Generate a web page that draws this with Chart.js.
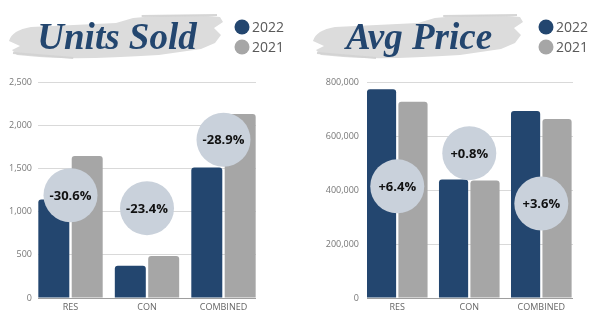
<!DOCTYPE html>
<html>
<head>
<meta charset="utf-8">
<script src="https://cdn.jsdelivr.net/npm/chart.js@4.4.1/dist/chart.umd.min.js"></script>
<style>
  html, body { margin: 0; padding: 0; background: #fff; }
  .row { display: flex; width: 600px; height: 325px; }
  canvas { display: block; }
</style>
</head>
<body>
<div class="row">
  <canvas id="unitsChart" width="300" height="325"></canvas>
  <canvas id="priceChart" width="300" height="325"></canvas>
</div>
<script>
const categories = ['RES', 'CON', 'COMBINED'];
const years = ['2022', '2021'];

const units2022 = [1139, 372, 1511];
const units2021 = [1643, 486, 2129];
const unitsChange = ['-30.6%', '-23.4%', '-28.9%'];
const unitsBadgeAt = [1190, 1040, 1832];
const unitsTicks = { max: 2500, step: 500 };

const price2022 = [773000, 438500, 693000];
const price2021 = [726500, 435000, 663000];
const priceChange = ['+6.4%', '+0.8%', '+3.6%'];
const priceBadgeAt = [413500, 536500, 350000];
const priceTicks = { max: 800000, step: 200000 };

const NAVY = '#23466f';
const GREY = '#a6a6a6';
const BADGE = '#c9d1db';

// grey paint stroke behind the title, then the title and the year key
const headerPlugin = {
  id: 'header',
  beforeDraw(chart, args, opts) {
    const ctx = chart.ctx;
    const bx = opts.brushX, w = opts.brushW;
    ctx.save();
    ctx.fillStyle = '#dcdcdc';
    ctx.beginPath();
    ctx.moveTo(bx, 41);
    ctx.quadraticCurveTo(bx + 3, 30, bx + 22, 27);
    ctx.lineTo(bx + w * 0.5, 23);
    ctx.lineTo(bx + w * 0.58, 18);
    ctx.quadraticCurveTo(bx + w * 0.82, 13, bx + w - 3, 17);
    ctx.lineTo(bx + w, 22);
    ctx.lineTo(bx + w - 9, 28);
    ctx.lineTo(bx + w - 2, 35);
    ctx.lineTo(bx + w - 8, 43);
    ctx.lineTo(bx + w - 22, 49);
    ctx.lineTo(bx + w * 0.7, 55);
    ctx.quadraticCurveTo(bx + w * 0.35, 60, bx + 30, 57);
    ctx.lineTo(bx + 8, 55);
    ctx.lineTo(bx + 3, 50);
    ctx.lineTo(bx + 11, 46);
    ctx.closePath();
    ctx.fill();
    // a few loose bristle streaks
    ctx.strokeStyle = 'rgba(210,210,210,0.9)';
    ctx.lineWidth = 2;
    ctx.beginPath();
    ctx.moveTo(bx + w * 0.62, 16); ctx.lineTo(bx + w - 6, 15);
    ctx.moveTo(bx + 4, 53); ctx.lineTo(bx + w * 0.3, 58);
    ctx.stroke();

    ctx.fillStyle = NAVY;
    ctx.font = 'italic bold 37px "Liberation Serif"';
    ctx.textAlign = 'center';
    ctx.textBaseline = 'alphabetic';
    ctx.fillText(opts.title, bx + w / 2 + 1, 49);

    ctx.font = '14px "Open Sans"';
    ctx.textAlign = 'left';
    ctx.textBaseline = 'middle';
    const bars = chart.data.datasets.filter(d => d.type !== 'bubble');
    bars.forEach((ds, i) => {
      const y = 27 + i * 20;
      ctx.fillStyle = ds.backgroundColor;
      ctx.beginPath();
      ctx.arc(opts.keyX, y, 7.5, 0, Math.PI * 2);
      ctx.fill();
      ctx.fillStyle = '#595959';
      ctx.fillText(ds.label, opts.keyX + 10, y + 1);
    });
    ctx.restore();
  }
};

// percentage text on top of each circle
const badgeText = {
  id: 'badgeText',
  afterDatasetsDraw(chart, args, opts) {
    const meta = chart.getDatasetMeta(0);
    const ctx = chart.ctx;
    ctx.save();
    ctx.font = 'bold 13px "Open Sans"';
    ctx.fillStyle = '#111';
    ctx.textAlign = 'center';
    ctx.textBaseline = 'middle';
    meta.data.forEach((pt, i) => ctx.fillText(opts.labels[i], pt.x, pt.y + 1));
    ctx.restore();
  }
};

function makeChart(id, cfg) {
  const pts = arr => arr.map((v, i) => ({ x: i, y: v }));
  return new Chart(document.getElementById(id), {
    type: 'bar',
    data: {
      datasets: [
        { type: 'bubble', label: 'change', data: pts(cfg.badgeAt),
          backgroundColor: BADGE, borderWidth: 0, radius: 27, order: 0 },
        { label: years[0], data: pts(cfg.current), backgroundColor: NAVY, borderRadius: 3, order: 1 },
        { label: years[1], data: pts(cfg.previous), backgroundColor: GREY, borderRadius: 3, order: 1 }
      ]
    },
    options: {
      responsive: false,
      animation: false,
      events: [],
      categoryPercentage: 0.873,
      barPercentage: 0.928,
      layout: { padding: { top: 82, right: cfg.padRight, bottom: 0, left: 0 } },
      plugins: {
        legend: { display: false },
        tooltip: { enabled: false },
        header: cfg.header,
        badgeText: { labels: cfg.change }
      },
      scales: {
        x: {
          type: 'linear',
          offset: false,
          min: cfg.xMin, max: cfg.xMax,
          grid: { display: false, drawTicks: false },
          border: { display: false },
          // one tick per category, none at the padded ends
          afterBuildTicks(scale) { scale.ticks = categories.map((c, i) => ({ value: i })); },
          afterFit(scale) { scale.height = 25; },
          ticks: {
            padding: 4, color: '#666', maxRotation: 0, autoSkip: false,
            font: { family: 'Open Sans', size: 9 },
            callback: v => categories[v] ?? ''
          }
        },
        y: {
          min: 0, max: cfg.ticks.max,
          afterFit(scale) { scale.width = cfg.axisW; },
          border: { display: false },
          grid: {
            drawTicks: false,
            color: c => c.tick.value === 0 ? '#9e9e9e' : '#d9d9d9'
          },
          ticks: {
            stepSize: cfg.ticks.step, padding: cfg.tickPad, color: '#777',
            font: { family: 'Open Sans', size: 9 },
            callback: v => v.toLocaleString('en-US')
          }
        }
      }
    },
    plugins: [headerPlugin, badgeText]
  });
}

makeChart('unitsChart', {
  current: units2022, previous: units2021, change: unitsChange, badgeAt: unitsBadgeAt,
  ticks: unitsTicks, axisW: 38, tickPad: 6, padRight: 44, xMin: -0.425, xMax: 2.425,
  header: { title: 'Units Sold', brushX: 9, brushW: 214, keyX: 242 }
});

makeChart('priceChart', {
  current: price2022, previous: price2021, change: priceChange, badgeAt: priceBadgeAt,
  ticks: priceTicks, axisW: 67, tickPad: 8, padRight: 15, xMin: -0.42, xMax: 2.44,
  header: { title: 'Avg Price', brushX: 13, brushW: 210, keyX: 246 }
});
</script>
</body>
</html>
